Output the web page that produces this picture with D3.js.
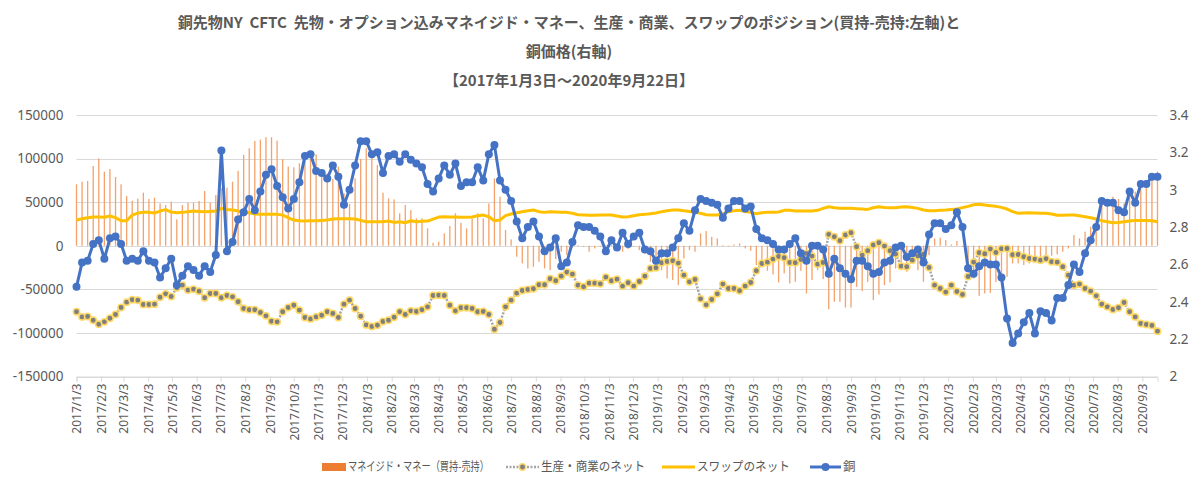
<!DOCTYPE html>
<html><head><meta charset="utf-8">
<script src="https://cdn.jsdelivr.net/npm/d3@7"></script>
<style>
body{margin:0;background:#fff;}
svg{display:block;font-family:"Noto Sans CJK JP","Noto Sans",sans-serif;}
</style></head>
<body><svg id="chart" width="1200" height="497"></svg>
<script>
// ---- data ----
const firstWeek = "2017-01-03";
const weekCount = 195;
const dates = d3.range(weekCount).map(i => new Date(Date.UTC(2017, 0, 3 + 7 * i)));
const monthTicks = d3.range(45).map(k => new Date(Date.UTC(2017, k, 3)));
const leftTicks = [-150000, -100000, -50000, 0, 50000, 100000, 150000];
const rightTicks = [2, 2.2, 2.4, 2.6, 2.8, 3, 3.2, 3.4];
const titleLines = [
  "銅先物NY  CFTC  先物・オプション込みマネイジド・マネー、生産・商業、スワップのポジション(買持-売持:左軸)と",
  "銅価格(右軸)",
  "【2017年1月3日～2020年9月22日】"
];
const seriesNames = ["マネイジド・マネー（買持-売持）", "生産・商業のネット", "スワップのネット", "銅"];

const mmNet = [70500,73500,74300,91500,100300,85000,88100,78900,70500,57100,
51700,54000,60900,53600,55200,48600,46700,50600,30300,46700,
49400,49400,51300,62800,49400,58200,65900,66600,73500,85800,
104200,111800,120300,121800,124500,124500,120600,99200,90800,90000,
94600,104200,100300,104900,81200,83100,76600,90800,60100,47900,
77400,99600,111800,104200,92700,60900,54400,53200,37200,46700,
41000,31400,31400,19900,3400,4600,14200,22600,37200,26400,
19900,31400,37200,31400,48600,77400,56300,18000,7300,-12600,
-20300,-26000,-24100,-18400,-26000,-28000,-15300,-6900,-10700,-2300,
800,-1100,-6900,-3100,-1100,800,1500,-2300,-6900,-3800,
-1100,-5000,-8800,-18400,-20300,-28000,-37500,-39400,-45200,-14600,
-5000,-6900,14200,16900,10300,8400,800,-800,1500,2700,
-3100,-5700,-22200,-24900,-28700,-32900,-42100,-31800,-43300,-41400,
-28700,-54800,-39400,-28000,-38300,-72800,-64300,-64300,-70900,-70900,
-47100,-52100,-41400,-62400,-55900,-45200,-42100,-26000,-28000,-29900,
-20300,-28000,-41400,-10700,8400,9200,6500,1500,5400,-1100,
-22200,-37500,-57500,-54800,-54000,-41400,-37500,-35600,-20300,-20300,
-22200,-20300,-17600,-15300,-13800,-11500,-10000,-6900,-3100,12300,
8400,16100,21800,29500,46700,52500,56300,53600,48600,59000,
62000,65900,71600,76600,85000];

const prodNet = [-75800,-81600,-81200,-85400,-90000,-87300,-83100,-78900,-70900,-64700,
-62000,-62400,-67400,-67400,-67000,-59000,-55200,-58200,-48300,-45200,
-50900,-49800,-52100,-59700,-54800,-54800,-59700,-57100,-58600,-64300,
-72000,-73500,-73500,-76600,-80400,-86600,-87300,-75800,-70900,-68200,
-73900,-82300,-83900,-81600,-79700,-75800,-77700,-82300,-67000,-62400,
-72000,-80800,-90800,-92700,-91200,-86900,-85400,-82000,-75800,-78900,
-74700,-75500,-73500,-70100,-57100,-56700,-57100,-68200,-74700,-71200,
-71200,-72000,-75800,-75500,-78900,-95800,-88100,-70100,-62400,-54400,
-51300,-50200,-49400,-44800,-44800,-37900,-40200,-34900,-30300,-32600,
-45200,-47100,-42900,-42900,-43700,-36000,-40200,-38300,-46300,-42500,
-46300,-41000,-34900,-26000,-25300,-19500,-18000,-17200,-19900,-33700,
-41400,-38700,-60900,-67800,-61700,-55200,-44000,-49000,-49000,-51700,
-46300,-42100,-28700,-20300,-18800,-15300,-12300,-13800,-19200,-19500,
-15700,-8800,-11900,-21100,-19200,13000,10300,5700,12300,14900,
-1100,-10700,-5700,800,3400,-400,-5700,-9600,-23400,-24100,
-16500,-11900,-9600,-24900,-45200,-49000,-53200,-45200,-52500,-55900,
-35200,-18800,-8000,-9200,-3800,-7700,-3400,-3100,-10300,-10000,
-12600,-14600,-15300,-16500,-14900,-18400,-18800,-24100,-33700,-45200,
-44000,-49000,-52100,-57500,-67000,-70100,-73200,-71200,-65100,-75800,
-81600,-89200,-90400,-91500,-98000];

const swapNet = [29500,31000,32200,32900,32900,32600,34100,32200,28700,28700,
35200,37500,38300,38300,37500,39800,41400,38700,37900,38300,
39100,39800,39400,39100,39400,39800,42900,41700,41000,39800,
39100,37900,36400,36000,36000,36000,36000,35200,32200,29500,
28700,28300,28700,28700,29100,29500,30600,31000,31000,31000,
30600,29100,27600,27600,27600,27600,28300,26800,27600,26400,
28700,27600,28000,28300,30600,32900,33300,32900,32900,32600,
32600,32900,34500,35200,33300,28700,29500,34500,36400,37900,
39100,40200,41000,39100,38300,39100,38700,38300,38300,37200,
35600,35200,34900,34900,35200,35200,35200,34100,32900,33300,
34500,35600,36000,36800,37500,39100,40200,41000,41000,40200,
39400,38300,37200,35600,35200,35200,36800,39100,40200,40600,
39400,38300,36800,37900,38300,38300,38700,40600,40600,39800,
39800,39800,39800,40600,42900,44800,43700,42900,42900,42900,
42500,42100,41700,43700,44800,44000,43700,43700,44400,44800,
44000,42900,41000,40200,40200,40600,41000,41700,42100,43700,
45200,47100,47500,46700,46000,45200,44000,42100,39100,37200,
37500,37900,37500,37200,37200,36400,34900,34900,35200,35200,
34500,33300,32200,30600,28700,27600,26400,26800,27600,28300,
29100,29100,29100,28700,27600];

const copper = [2.48,2.61,2.62,2.71,2.73,2.63,2.74,2.75,2.71,2.62,
2.63,2.62,2.67,2.62,2.61,2.53,2.58,2.63,2.49,2.54,
2.59,2.57,2.54,2.59,2.56,2.65,3.21,2.67,2.72,2.84,
2.88,2.95,2.89,2.99,3.08,3.11,3.02,2.96,2.90,2.95,
3.04,3.18,3.19,3.10,3.09,3.06,3.13,3.07,2.92,3.00,
3.13,3.26,3.26,3.19,3.20,3.09,3.18,3.19,3.15,3.19,
3.16,3.14,3.12,3.03,2.99,3.06,3.13,3.08,3.14,3.02,
3.04,3.04,3.12,3.05,3.19,3.24,3.05,3.00,2.94,2.83,
2.74,2.80,2.83,2.75,2.67,2.69,2.74,2.59,2.61,2.72,
2.81,2.80,2.80,2.78,2.75,2.67,2.73,2.69,2.77,2.71,
2.75,2.77,2.68,2.67,2.62,2.66,2.66,2.69,2.74,2.82,
2.78,2.89,2.95,2.94,2.93,2.92,2.85,2.90,2.94,2.94,
2.90,2.91,2.79,2.74,2.73,2.71,2.68,2.68,2.71,2.74,
2.66,2.62,2.70,2.70,2.68,2.55,2.63,2.58,2.55,2.52,
2.62,2.62,2.59,2.55,2.56,2.61,2.62,2.69,2.70,2.64,
2.66,2.68,2.61,2.76,2.82,2.82,2.79,2.81,2.88,2.80,
2.58,2.55,2.59,2.61,2.60,2.60,2.53,2.31,2.18,2.23,
2.29,2.34,2.23,2.35,2.34,2.30,2.42,2.42,2.49,2.60,
2.56,2.66,2.73,2.80,2.94,2.93,2.93,2.89,2.88,2.99,
2.93,3.03,3.03,3.07,3.07];

// ---- chart ----
const svg = d3.select("#chart");
const W = 1200, H = 497;
const plot = {left: 76.5, right: 1157.5, top: 115, bottom: 376.5};
const txt = "#595959", grid = "#d9d9d9";

const x = d3.scaleUtc()
  .domain([dates[0], dates[dates.length - 1]])
  .range([plot.left, plot.right]);
const yL = d3.scaleLinear().domain([-150000, 150000]).range([plot.bottom, plot.top]);
const yR = d3.scaleLinear().domain([2, 3.4]).range([plot.bottom, plot.top]);

svg.append("rect").attr("width", W).attr("height", H).attr("fill", "#fff");

// title
const title = svg.append("g").attr("font-weight", "bold").attr("fill", txt)
  .attr("font-size", 15).attr("text-anchor", "middle");
titleLines.forEach((t, k) => {
  title.append("text").attr("x", 569).attr("y", 28 + k * 29)
    .style("white-space", "pre").text(t);
});

// gridlines
svg.append("g").selectAll("line").data(leftTicks).join("line")
  .attr("x1", plot.left).attr("x2", plot.right)
  .attr("y1", d => Math.round(yL(d)) + 0.5).attr("y2", d => Math.round(yL(d)) + 0.5)
  .attr("stroke", grid).attr("stroke-width", 1);

// left axis
const axL = svg.append("g").attr("transform", `translate(${plot.left},0)`)
  .call(d3.axisLeft(yL).tickValues(leftTicks).tickSize(0).tickPadding(13)
    .tickFormat(d => String(d)));
axL.select(".domain").remove();
axL.selectAll("text").attr("fill", txt).attr("font-size", 13.5)
  .attr("font-family", "'Noto Sans',sans-serif");

// right axis
const axR = svg.append("g").attr("transform", `translate(${plot.right},0)`)
  .call(d3.axisRight(yR).tickValues(rightTicks).tickSize(0).tickPadding(12)
    .tickFormat(d => String(+d.toFixed(1))));
axR.select(".domain").remove();
axR.selectAll("text").attr("fill", txt).attr("font-size", 13.5)
  .attr("font-family", "'Noto Sans',sans-serif");

// x axis (month ticks)
const axX = svg.append("g").attr("transform", `translate(0,${plot.bottom})`)
  .call(d3.axisBottom(x).tickValues(monthTicks).tickSize(5).tickPadding(3)
    .tickFormat(d => `${d.getUTCFullYear()}/${d.getUTCMonth() + 1}/${d.getUTCDate()}`));
axX.select(".domain").attr("stroke", grid);
axX.selectAll(".tick line").attr("stroke", grid);
axX.selectAll("text")
  .attr("fill", txt).attr("font-size", 12).attr("font-family", "'Noto Sans',sans-serif")
  .attr("transform", "rotate(-90)")
  .attr("text-anchor", "end").attr("dy", "0.35em").attr("x", -7).attr("y", 0);

// bars
svg.append("g").selectAll("rect").data(dates).join("rect")
  .attr("x", d => x(d) - 0.65).attr("width", 1.3)
  .attr("y", (d, i) => Math.min(yL(0), yL(mmNet[i])))
  .attr("height", (d, i) => Math.abs(yL(mmNet[i]) - yL(0)))
  .attr("fill", "#F3A26B");

// producer line
svg.append("path").datum(dates)
  .attr("d", d3.line().x(d => x(d)).y((d, i) => yL(prodNet[i])))
  .attr("fill", "none").attr("stroke", "#A5A5A5").attr("stroke-width", 2.5)
  .attr("stroke-dasharray", "2,1.5");
svg.append("g").selectAll("circle").data(dates).join("circle")
  .attr("cx", d => x(d)).attr("cy", (d, i) => yL(prodNet[i])).attr("r", 3.2)
  .attr("fill", "#7F7F7F").attr("stroke", "#FFD966").attr("stroke-width", 1.5);

// swap line
svg.append("path").datum(dates)
  .attr("d", d3.line().x(d => x(d)).y((d, i) => yL(swapNet[i])))
  .attr("fill", "none").attr("stroke", "#FFC000").attr("stroke-width", 3)
  .attr("stroke-linejoin", "round");

// copper line
svg.append("path").datum(dates)
  .attr("d", d3.line().x(d => x(d)).y((d, i) => yR(copper[i])))
  .attr("fill", "none").attr("stroke", "#4472C4").attr("stroke-width", 3)
  .attr("stroke-linejoin", "round");
svg.append("g").selectAll("circle").data(dates).join("circle")
  .attr("cx", d => x(d)).attr("cy", (d, i) => yR(copper[i])).attr("r", 4)
  .attr("fill", "#4472C4");

// legend
const lg = svg.append("g").attr("font-size", 12.5).attr("fill", txt);
const ly = 467;
// item 1: bars
lg.append("rect").attr("x", 322).attr("y", ly - 4).attr("width", 24).attr("height", 8).attr("fill", "#ED7D31");
lg.append("text").attr("x", 348).attr("y", ly).attr("dy", "0.35em")
  .attr("textLength", 141).attr("lengthAdjust", "spacingAndGlyphs").text(seriesNames[0]);
// item 2: producer
lg.append("line").attr("x1", 506).attr("x2", 539).attr("y1", ly).attr("y2", ly)
  .attr("stroke", "#A5A5A5").attr("stroke-width", 2.5).attr("stroke-dasharray", "2,1.5");
lg.append("circle").attr("cx", 522.5).attr("cy", ly).attr("r", 3.2)
  .attr("fill", "#7F7F7F").attr("stroke", "#FFD966").attr("stroke-width", 1.5);
lg.append("text").attr("x", 541).attr("y", ly).attr("dy", "0.35em")
  .attr("textLength", 104).attr("lengthAdjust", "spacingAndGlyphs").text(seriesNames[1]);
// item 3: swap
lg.append("line").attr("x1", 662).attr("x2", 695).attr("y1", ly).attr("y2", ly)
  .attr("stroke", "#FFC000").attr("stroke-width", 3);
lg.append("text").attr("x", 697).attr("y", ly).attr("dy", "0.35em")
  .attr("textLength", 93).attr("lengthAdjust", "spacingAndGlyphs").text(seriesNames[2]);
// item 4: copper
lg.append("line").attr("x1", 810).attr("x2", 841).attr("y1", ly).attr("y2", ly)
  .attr("stroke", "#4472C4").attr("stroke-width", 3);
lg.append("circle").attr("cx", 825.5).attr("cy", ly).attr("r", 4).attr("fill", "#4472C4");
lg.append("text").attr("x", 843).attr("y", ly).attr("dy", "0.35em").text(seriesNames[3]);
</script>
</body></html>
